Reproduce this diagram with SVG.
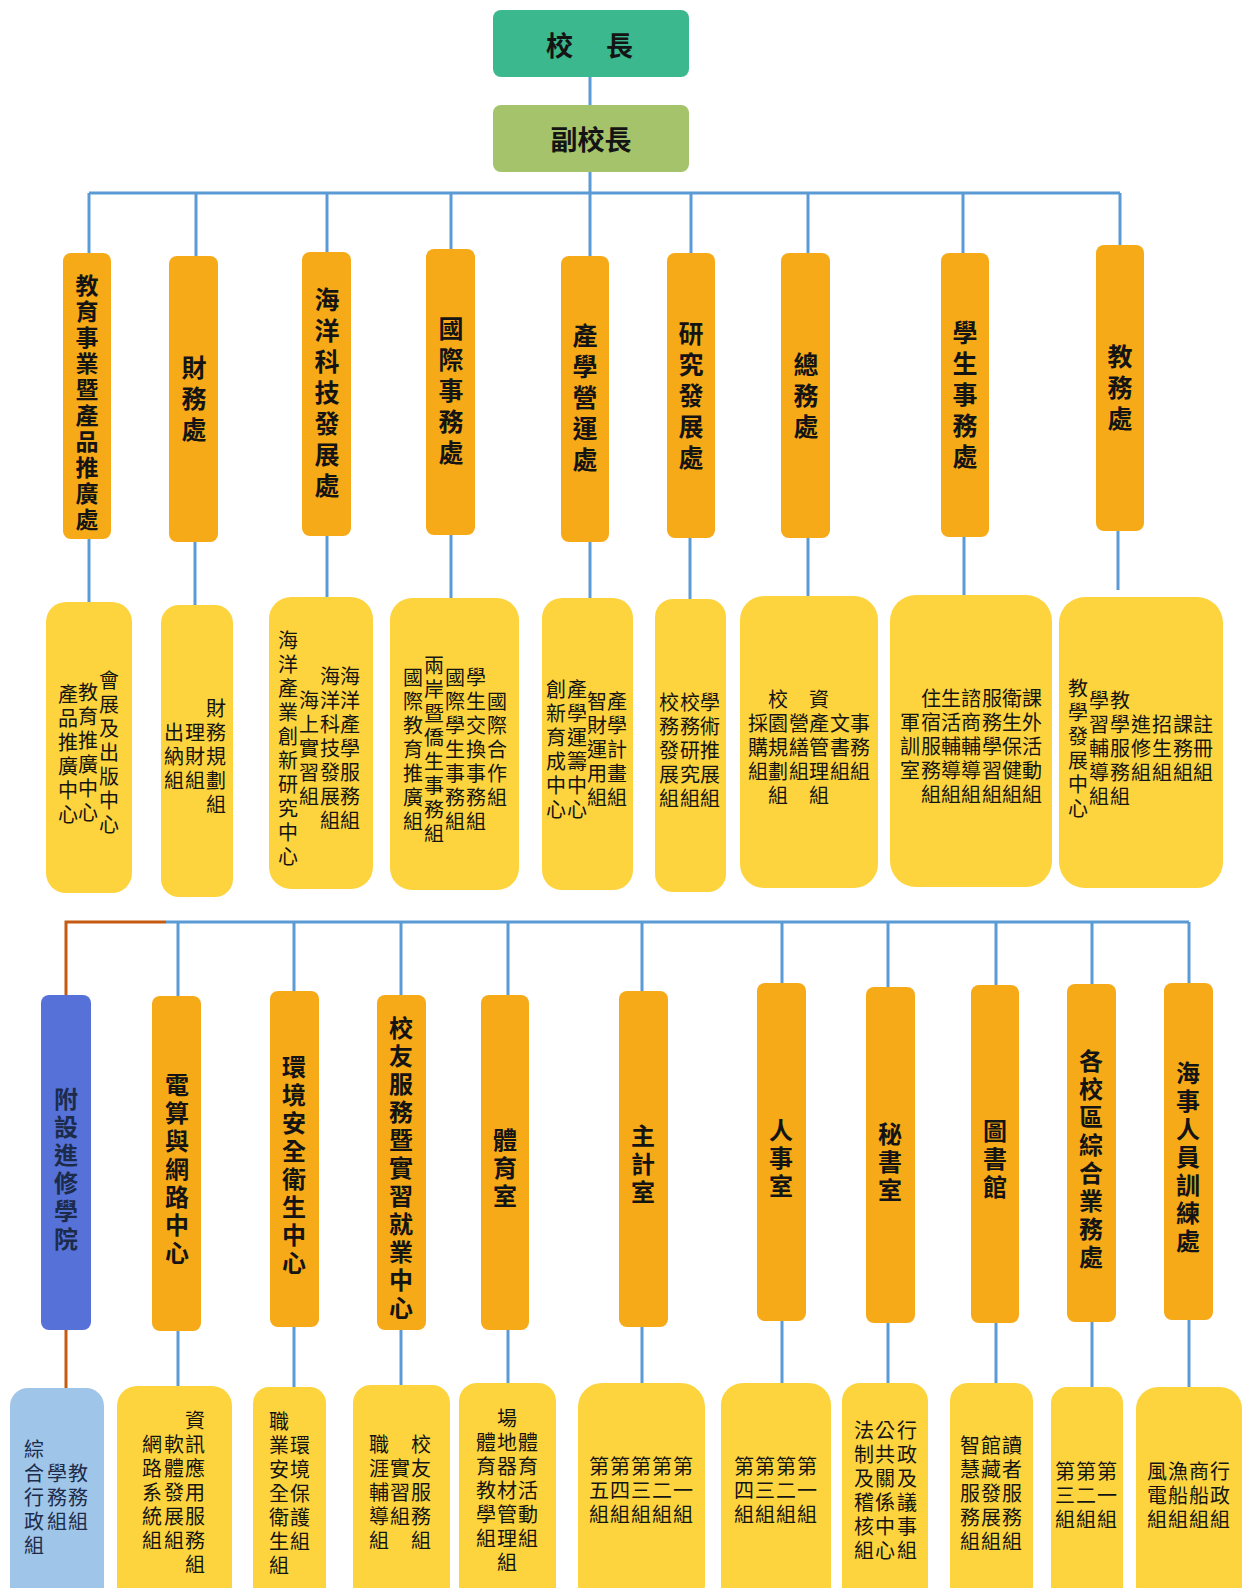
<svg xmlns="http://www.w3.org/2000/svg" width="1244" height="1588" viewBox="0 0 1244 1588">
<style>
text { font-family: "Noto Sans CJK TC", "Noto Sans CJK SC", sans-serif; fill: #141414; }
.h { font-weight: bold; font-size: 27px; text-anchor: middle; dominant-baseline: central; }
.v { writing-mode: vertical-rl; text-anchor: middle; }
.mt { font-weight: bold; font-size: 25px; letter-spacing: 6px; }
.mt2 { font-weight: bold; font-size: 23px; letter-spacing: 3px; }
.ml { font-weight: bold; font-size: 24px; letter-spacing: 4px; }
.s { font-size: 20px; letter-spacing: 4px; }
.nv { fill: #1c2b4a; }
.main { fill: #f6aa18; }
.sub { fill: #fdd43e; }
.ln { stroke: #5b9bd5; stroke-width: 3; fill: none; }
.lo { stroke: #c55a11; stroke-width: 3; fill: none; }
</style>
<rect width="1244" height="1588" fill="#ffffff"/>

<g id="connectors">
  <line class="ln" x1="590" y1="76" x2="590" y2="106"/>
  <line class="ln" x1="590" y1="171" x2="590" y2="256"/>
  <line class="ln" x1="89" y1="193" x2="1120" y2="193"/>
  <line class="ln" x1="89" y1="193" x2="89" y2="254"/>
  <line class="ln" x1="196" y1="193" x2="196" y2="257"/>
  <line class="ln" x1="327" y1="193" x2="327" y2="253"/>
  <line class="ln" x1="451" y1="193" x2="451" y2="250"/>
  <line class="ln" x1="691" y1="193" x2="691" y2="254"/>
  <line class="ln" x1="808" y1="193" x2="808" y2="254"/>
  <line class="ln" x1="963" y1="193" x2="963" y2="254"/>
  <line class="ln" x1="1120" y1="193" x2="1120" y2="246"/>
  <line class="ln" x1="89" y1="538" x2="89" y2="603"/>
  <line class="ln" x1="195" y1="541" x2="195" y2="606"/>
  <line class="ln" x1="327" y1="535" x2="327" y2="598"/>
  <line class="ln" x1="451" y1="534" x2="451" y2="599"/>
  <line class="ln" x1="590" y1="541" x2="590" y2="599"/>
  <line class="ln" x1="690" y1="537" x2="690" y2="600"/>
  <line class="ln" x1="808" y1="537" x2="808" y2="597"/>
  <line class="ln" x1="964" y1="536" x2="964" y2="596"/>
  <line class="ln" x1="1118" y1="530" x2="1118" y2="590"/>

  <polyline class="lo" points="66,995 66,922 166,922"/>
  <line class="ln" x1="166" y1="922" x2="1189" y2="922"/>
  <line class="ln" x1="178" y1="922" x2="178" y2="997"/>
  <line class="ln" x1="294" y1="922" x2="294" y2="992"/>
  <line class="ln" x1="401" y1="922" x2="401" y2="996"/>
  <line class="ln" x1="508" y1="922" x2="508" y2="996"/>
  <line class="ln" x1="642" y1="922" x2="642" y2="992"/>
  <line class="ln" x1="782" y1="922" x2="782" y2="984"/>
  <line class="ln" x1="888" y1="922" x2="888" y2="988"/>
  <line class="ln" x1="996" y1="922" x2="996" y2="986"/>
  <line class="ln" x1="1092" y1="922" x2="1092" y2="985"/>
  <line class="ln" x1="1189" y1="922" x2="1189" y2="984"/>
  <line class="lo" x1="66" y1="1329" x2="66" y2="1389"/>
  <line class="ln" x1="178" y1="1330" x2="178" y2="1387"/>
  <line class="ln" x1="294" y1="1326" x2="294" y2="1388"/>
  <line class="ln" x1="401" y1="1329" x2="401" y2="1386"/>
  <line class="ln" x1="508" y1="1329" x2="508" y2="1384"/>
  <line class="ln" x1="642" y1="1326" x2="642" y2="1384"/>
  <line class="ln" x1="782" y1="1320" x2="782" y2="1384"/>
  <line class="ln" x1="888" y1="1322" x2="888" y2="1384"/>
  <line class="ln" x1="996" y1="1322" x2="996" y2="1384"/>
  <line class="ln" x1="1092" y1="1321" x2="1092" y2="1388"/>
  <line class="ln" x1="1189" y1="1319" x2="1189" y2="1388"/>
</g>

<g id="president">
  <rect x="493" y="10" width="196" height="67" rx="8" fill="#3cb88e"/>
  <text class="h" x="591" y="44" letter-spacing="3">校　長</text>
</g>
<g id="vice-president">
  <rect x="493" y="105" width="196" height="67" rx="8" fill="#a4c36a"/>
  <text class="h" x="591" y="138">副校長</text>
</g>

<!-- upper main units -->
<g id="u1"><rect class="main" x="63" y="253" width="48" height="286" rx="8"/><text class="v mt2" x="87" y="404">教育事業暨產品推廣處</text></g>
<g id="u2"><rect class="main" x="169" y="256" width="49" height="286" rx="8"/><text class="v mt" x="194" y="401">財務處</text></g>
<g id="u3"><rect class="main" x="302" y="252" width="49" height="284" rx="8"/><text class="v mt" x="327" y="395">海洋科技發展處</text></g>
<g id="u4"><rect class="main" x="426" y="249" width="49" height="286" rx="8"/><text class="v mt" x="451" y="393">國際事務處</text></g>
<g id="u5"><rect class="main" x="561" y="256" width="48" height="286" rx="8"/><text class="v mt" x="585" y="400">產學營運處</text></g>
<g id="u6"><rect class="main" x="667" y="253" width="48" height="285" rx="8"/><text class="v mt" x="691" y="398">研究發展處</text></g>
<g id="u7"><rect class="main" x="781" y="253" width="49" height="285" rx="8"/><text class="v mt" x="806" y="398">總務處</text></g>
<g id="u8"><rect class="main" x="941" y="253" width="48" height="284" rx="8"/><text class="v mt" x="965" y="397">學生事務處</text></g>
<g id="u9"><rect class="main" x="1096" y="245" width="48" height="286" rx="8"/><text class="v mt" x="1120" y="390">教務處</text></g>

<!-- upper sub boxes -->
<g id="u1-sub"><rect class="sub" x="46" y="602" width="86" height="291" rx="20"/>
  <text class="v s" x="109" y="754">會展及出版中心</text>
  <text class="v s" x="88" y="754">教育推廣中心</text>
  <text class="v s" x="68" y="756">產品推廣中心</text>
</g>
<g id="u2-sub"><rect class="sub" x="161" y="605" width="72" height="292" rx="18"/>
  <text class="v s" x="216" y="758">財務規劃組</text>
  <text class="v s" x="195" y="758">理財組</text>
  <text class="v s" x="174" y="758">出納組</text>
</g>
<g id="u3-sub"><rect class="sub" x="269" y="597" width="104" height="292" rx="22"/>
  <text class="v s" x="350" y="750">海洋產學服務組</text>
  <text class="v s" x="330" y="750">海洋科技發展組</text>
  <text class="v s" x="309" y="750">海上實習組</text>
  <text class="v s" x="288" y="750">海洋產業創新研究中心</text>
</g>
<g id="u4-sub"><rect class="sub" x="390" y="598" width="129" height="292" rx="22"/>
  <text class="v s" x="497" y="751">國際合作組</text>
  <text class="v s" x="476" y="751">學生交換事務組</text>
  <text class="v s" x="455" y="751">國際學生事務組</text>
  <text class="v s" x="434" y="751">兩岸暨僑生事務組</text>
  <text class="v s" x="413" y="751">國際教育推廣組</text>
</g>
<g id="u5-sub"><rect class="sub" x="542" y="598" width="91" height="292" rx="20"/>
  <text class="v s" x="617" y="751">產學計畫組</text>
  <text class="v s" x="597" y="751">智財運用組</text>
  <text class="v s" x="577" y="751">產學運籌中心</text>
  <text class="v s" x="556" y="751">創新育成中心</text>
</g>
<g id="u6-sub"><rect class="sub" x="655" y="599" width="71" height="293" rx="18"/>
  <text class="v s" x="710" y="752">學術推展組</text>
  <text class="v s" x="690" y="752">校務研究組</text>
  <text class="v s" x="669" y="752">校務發展組</text>
</g>
<g id="u7-sub"><rect class="sub" x="740" y="596" width="138" height="292" rx="24"/>
  <text class="v s" x="860" y="749">事務組</text>
  <text class="v s" x="840" y="749">文書組</text>
  <text class="v s" x="819" y="749">資產管理組</text>
  <text class="v s" x="799" y="749">營繕組</text>
  <text class="v s" x="778" y="749">校園規劃組</text>
  <text class="v s" x="758" y="749">採購組</text>
</g>
<g id="u8-sub"><rect class="sub" x="890" y="595" width="162" height="292" rx="26"/>
  <text class="v s" x="1032" y="748">課外活動組</text>
  <text class="v s" x="1012" y="748">衛生保健組</text>
  <text class="v s" x="992" y="748">服務學習組</text>
  <text class="v s" x="971" y="748">諮商輔導組</text>
  <text class="v s" x="951" y="748">生活輔導組</text>
  <text class="v s" x="931" y="748">住宿服務組</text>
  <text class="v s" x="910" y="748">軍訓室</text>
</g>
<g id="u9-sub"><rect class="sub" x="1059" y="597" width="164" height="291" rx="26"/>
  <text class="v s" x="1203" y="750">註冊組</text>
  <text class="v s" x="1183" y="750">課務組</text>
  <text class="v s" x="1162" y="750">招生組</text>
  <text class="v s" x="1141" y="750">進修組</text>
  <text class="v s" x="1120" y="750">教學服務組</text>
  <text class="v s" x="1099" y="750">學習輔導組</text>
  <text class="v s" x="1078" y="750">教學發展中心</text>
</g>

<!-- lower main units -->
<g id="l1"><rect x="41" y="995" width="50" height="335" rx="8" fill="#5672d8"/><text class="v ml nv" x="66" y="1171">附設進修學院</text></g>
<g id="l2"><rect class="main" x="152" y="996" width="49" height="335" rx="8"/><text class="v ml" x="177" y="1171">電算與網路中心</text></g>
<g id="l3"><rect class="main" x="270" y="991" width="49" height="336" rx="8"/><text class="v ml" x="294" y="1167">環境安全衛生中心</text></g>
<g id="l4"><rect class="main" x="377" y="995" width="49" height="335" rx="8"/><text class="v ml" x="401" y="1170">校友服務暨實習就業中心</text></g>
<g id="l5"><rect class="main" x="481" y="995" width="48" height="335" rx="8"/><text class="v ml" x="505" y="1170">體育室</text></g>
<g id="l6"><rect class="main" x="619" y="991" width="49" height="336" rx="8"/><text class="v ml" x="643" y="1166">主計室</text></g>
<g id="l7"><rect class="main" x="757" y="983" width="49" height="338" rx="8"/><text class="v ml" x="781" y="1160">人事室</text></g>
<g id="l8"><rect class="main" x="866" y="987" width="49" height="336" rx="8"/><text class="v ml" x="890" y="1164">秘書室</text></g>
<g id="l9"><rect class="main" x="971" y="985" width="48" height="338" rx="8"/><text class="v ml" x="995" y="1161">圖書館</text></g>
<g id="l10"><rect class="main" x="1067" y="984" width="49" height="338" rx="8"/><text class="v ml" x="1091" y="1161">各校區綜合業務處</text></g>
<g id="l11"><rect class="main" x="1164" y="983" width="49" height="337" rx="8"/><text class="v ml" x="1188" y="1159">海事人員訓練處</text></g>

<!-- lower sub boxes -->
<g id="l1-sub"><rect x="10" y="1388" width="94" height="220" rx="18" fill="#9fc5e8"/>
  <text class="v s nv" x="78" y="1499">教務組</text>
  <text class="v s nv" x="57" y="1499">學務組</text>
  <text class="v s nv" x="34" y="1499">綜合行政組</text>
</g>
<g id="l2-sub"><rect class="sub" x="117" y="1386" width="115" height="222" rx="20"/>
  <text class="v s" x="195" y="1494">資訊應用服務組</text>
  <text class="v s" x="174" y="1494">軟體發展組</text>
  <text class="v s" x="152" y="1494">網路系統組</text>
</g>
<g id="l3-sub"><rect class="sub" x="253" y="1387" width="73" height="221" rx="16"/>
  <text class="v s" x="300" y="1495">環境保護組</text>
  <text class="v s" x="279" y="1495">職業安全衛生組</text>
</g>
<g id="l4-sub"><rect class="sub" x="353" y="1385" width="97" height="223" rx="18"/>
  <text class="v s" x="421" y="1494">校友服務組</text>
  <text class="v s" x="400" y="1494">實習組</text>
  <text class="v s" x="379" y="1494">職涯輔導組</text>
</g>
<g id="l5-sub"><rect class="sub" x="459" y="1383" width="97" height="225" rx="18"/>
  <text class="v s" x="528" y="1492">體育活動組</text>
  <text class="v s" x="507" y="1492">場地器材管理組</text>
  <text class="v s" x="486" y="1492">體育教學組</text>
</g>
<g id="l6-sub"><rect class="sub" x="578" y="1383" width="127" height="225" rx="24"/>
  <text class="v s" x="683" y="1492">第一組</text>
  <text class="v s" x="662" y="1492">第二組</text>
  <text class="v s" x="641" y="1492">第三組</text>
  <text class="v s" x="620" y="1492">第四組</text>
  <text class="v s" x="599" y="1492">第五組</text>
</g>
<g id="l7-sub"><rect class="sub" x="721" y="1383" width="110" height="225" rx="22"/>
  <text class="v s" x="807" y="1492">第一組</text>
  <text class="v s" x="786" y="1492">第二組</text>
  <text class="v s" x="765" y="1492">第三組</text>
  <text class="v s" x="744" y="1492">第四組</text>
</g>
<g id="l8-sub"><rect class="sub" x="842" y="1383" width="86" height="225" rx="18"/>
  <text class="v s" x="907" y="1492">行政及議事組</text>
  <text class="v s" x="885" y="1492">公共關係中心</text>
  <text class="v s" x="864" y="1492">法制及稽核組</text>
</g>
<g id="l9-sub"><rect class="sub" x="950" y="1383" width="83" height="225" rx="18"/>
  <text class="v s" x="1012" y="1495">讀者服務組</text>
  <text class="v s" x="991" y="1495">館藏發展組</text>
  <text class="v s" x="970" y="1495">智慧服務組</text>
</g>
<g id="l10-sub"><rect class="sub" x="1051" y="1387" width="72" height="221" rx="16"/>
  <text class="v s" x="1107" y="1497">第一組</text>
  <text class="v s" x="1086" y="1497">第二組</text>
  <text class="v s" x="1065" y="1497">第三組</text>
</g>
<g id="l11-sub"><rect class="sub" x="1136" y="1387" width="106" height="221" rx="22"/>
  <text class="v s" x="1220" y="1497">行政組</text>
  <text class="v s" x="1199" y="1497">商船組</text>
  <text class="v s" x="1178" y="1497">漁船組</text>
  <text class="v s" x="1157" y="1497">風電組</text>
</g>
</svg>
